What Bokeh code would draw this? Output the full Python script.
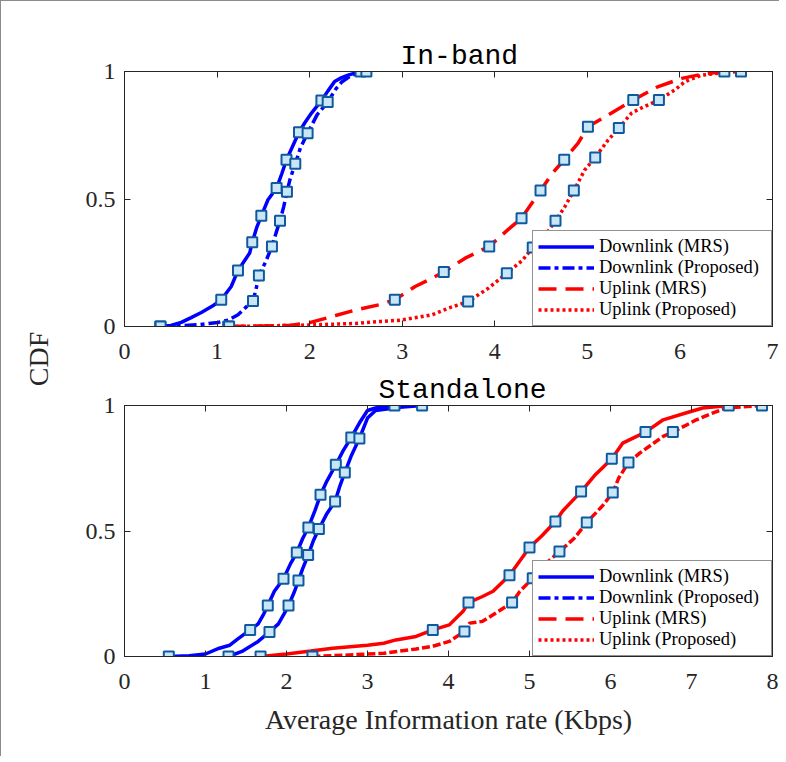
from bokeh.plotting import figure
from bokeh.models import (LinearAxis, FixedTicker, Legend, LegendItem, Range1d, Div,
                          CustomJSTickFormatter)
from bokeh.layouts import row, column
from bokeh.embed import file_html
from bokeh.resources import INLINE

# ---------------- data: In-band ----------------
ib_dl_mrs_x = [0.386, 0.5, 0.613, 0.72, 0.83, 0.95, 1.045, 1.153, 1.226, 1.3, 1.352, 1.38, 1.43, 1.478,
               1.55, 1.643, 1.7, 1.75, 1.82, 1.885, 1.95, 2.02, 2.127, 2.2, 2.27, 2.34, 2.415, 2.55]
ib_dl_mrs_y = [0, 0.004, 0.016, 0.035, 0.055, 0.08, 0.105, 0.157, 0.22, 0.26, 0.288, 0.33, 0.39, 0.434,
               0.497, 0.543, 0.6, 0.654, 0.71, 0.762, 0.8, 0.837, 0.886, 0.925, 0.961, 0.975, 0.986, 1.0]
ib_dl_mrs_mx = [0.386, 1.045, 1.226, 1.38, 1.478, 1.643, 1.75, 1.885, 2.127, 2.55]
ib_dl_mrs_my = [0, 0.105, 0.22, 0.33, 0.434, 0.543, 0.654, 0.762, 0.886, 1.0]

ib_dl_prop_x = [0.39, 0.6, 0.8, 1.01, 1.12, 1.226, 1.31, 1.388, 1.42, 1.452, 1.52, 1.593, 1.64, 1.68,
                1.72, 1.755, 1.79, 1.845, 1.9, 1.978, 2.08, 2.195, 2.28, 2.35, 2.45, 2.613]
ib_dl_prop_y = [0, 0.003, 0.007, 0.016, 0.025, 0.046, 0.075, 0.10, 0.145, 0.2, 0.25, 0.314, 0.37, 0.415,
                0.47, 0.528, 0.58, 0.638, 0.7, 0.758, 0.83, 0.88, 0.93, 0.96, 0.985, 1.0]
ib_dl_prop_mx = [0.39, 1.388, 1.452, 1.593, 1.68, 1.755, 1.845, 1.978, 2.195, 2.613]
ib_dl_prop_my = [0, 0.10, 0.2, 0.314, 0.415, 0.528, 0.638, 0.758, 0.88, 1.0]

ib_ul_mrs_x = [1.12, 1.5, 1.8, 2.0, 2.1, 2.3, 2.5, 2.75, 2.92, 3.14, 3.3, 3.449, 3.68, 3.94, 4.14, 4.289,
               4.494, 4.62, 4.75, 4.9, 5.006, 5.226, 5.496, 5.766, 6.02, 6.25, 6.48]
ib_ul_mrs_y = [0, 0.002, 0.005, 0.015, 0.025, 0.045, 0.065, 0.085, 0.105, 0.157, 0.185, 0.214, 0.268,
               0.314, 0.379, 0.425, 0.533, 0.6, 0.654, 0.719, 0.783, 0.83, 0.888, 0.941, 0.973, 0.99, 1.0]
ib_ul_mrs_mx = [1.12, 2.92, 3.449, 3.94, 4.289, 4.494, 4.75, 5.006, 5.496, 6.48]
ib_ul_mrs_my = [0, 0.105, 0.214, 0.314, 0.425, 0.533, 0.654, 0.783, 0.888, 1.0]

ib_ul_prop_x = [1.13, 1.6, 2.0, 2.5, 2.77, 2.99, 3.316, 3.5, 3.712, 3.93, 4.13, 4.3, 4.41, 4.55, 4.656,
                4.757, 4.854, 4.97, 5.085, 5.226, 5.34, 5.478, 5.6, 5.773, 5.946, 6.054, 6.23, 6.45, 6.66]
ib_ul_prop_y = [0, 0.003, 0.006, 0.012, 0.02, 0.025, 0.045, 0.072, 0.098, 0.15, 0.209, 0.26, 0.31, 0.36,
                0.415, 0.47, 0.533, 0.613, 0.663, 0.732, 0.778, 0.837, 0.86, 0.888, 0.928, 0.96, 0.985,
                0.995, 1.0]
ib_ul_prop_mx = [1.13, 3.712, 4.13, 4.41, 4.656, 4.854, 5.085, 5.34, 5.773, 6.66]
ib_ul_prop_my = [0, 0.098, 0.209, 0.31, 0.415, 0.533, 0.663, 0.778, 0.888, 1.0]

# ---------------- data: Standalone ----------------
sa_dl_mrs_x = [0.547, 0.8, 1.0, 1.17, 1.3, 1.4, 1.551, 1.65, 1.72, 1.769, 1.85, 1.963, 2.05, 2.127, 2.2,
               2.27, 2.35, 2.42, 2.5, 2.609, 2.7, 2.8, 2.9, 3.0, 3.1, 3.333]
sa_dl_mrs_y = [0, 0.003, 0.01, 0.033, 0.045, 0.07, 0.106, 0.13, 0.17, 0.203, 0.26, 0.31, 0.37, 0.414,
               0.47, 0.514, 0.58, 0.644, 0.7, 0.764, 0.82, 0.873, 0.93, 0.98, 0.99, 1.0]
sa_dl_mrs_mx = [0.547, 1.551, 1.769, 1.963, 2.127, 2.27, 2.42, 2.609, 2.8, 3.333]
sa_dl_mrs_my = [0, 0.106, 0.203, 0.31, 0.414, 0.514, 0.644, 0.764, 0.873, 1.0]

sa_dl_prop_x = [1.284, 1.45, 1.65, 1.79, 1.9, 1.97, 2.025, 2.1, 2.148, 2.2, 2.267, 2.33, 2.4, 2.5, 2.6,
                2.66, 2.72, 2.8, 2.9, 3.0, 3.1, 3.4, 3.674]
sa_dl_prop_y = [0, 0.02, 0.06, 0.098, 0.13, 0.17, 0.203, 0.26, 0.303, 0.35, 0.404, 0.46, 0.508, 0.57,
                0.618, 0.68, 0.733, 0.8, 0.869, 0.95, 0.98, 0.993, 1.0]
sa_dl_prop_mx = [1.284, 1.79, 2.025, 2.148, 2.267, 2.4, 2.6, 2.72, 2.9, 3.674]
sa_dl_prop_my = [0, 0.098, 0.203, 0.303, 0.404, 0.508, 0.618, 0.733, 0.869, 1.0]

sa_ul_mrs_x = [1.68, 2.0, 2.3, 2.57, 3.0, 3.2, 3.35, 3.6, 3.806, 4.01, 4.18, 4.247, 4.42, 4.55, 4.753,
               5.0, 5.15, 5.32, 5.41, 5.637, 5.8, 6.016, 6.15, 6.432, 6.65, 6.98, 7.14, 7.46]
sa_ul_mrs_y = [0, 0.01, 0.022, 0.033, 0.045, 0.053, 0.066, 0.08, 0.106, 0.126, 0.18, 0.215, 0.239, 0.26,
               0.324, 0.434, 0.48, 0.538, 0.58, 0.657, 0.72, 0.788, 0.85, 0.894, 0.943, 0.975, 0.99, 1.0]
sa_ul_mrs_mx = [1.68, 3.806, 4.247, 4.753, 5.0, 5.32, 5.637, 6.016, 6.432, 7.46]
sa_ul_mrs_my = [0, 0.106, 0.215, 0.324, 0.434, 0.538, 0.657, 0.788, 0.894, 1.0]

sa_ul_prop_x = [2.32, 2.7, 3.2, 3.6, 3.8, 4.01, 4.197, 4.26, 4.42, 4.55, 4.785, 4.88, 5.04, 5.2, 5.37,
                5.55, 5.707, 5.9, 6.028, 6.1, 6.222, 6.36, 6.65, 6.77, 7.06, 7.26, 7.43, 7.87]
sa_ul_prop_y = [0, 0.005, 0.013, 0.03, 0.04, 0.06, 0.1, 0.133, 0.14, 0.166, 0.215, 0.259, 0.312, 0.37,
                0.418, 0.47, 0.534, 0.6, 0.653, 0.71, 0.773, 0.81, 0.877, 0.894, 0.943, 0.97, 0.99, 1.0]
sa_ul_prop_mx = [2.32, 4.197, 4.785, 5.04, 5.37, 5.707, 6.028, 6.222, 6.77, 7.87]
sa_ul_prop_my = [0, 0.1, 0.215, 0.312, 0.418, 0.534, 0.653, 0.773, 0.894, 1.0]

series_labels = ["Downlink (MRS)", "Downlink (Proposed)", "Uplink (MRS)", "Uplink (Proposed)"]
x_ticks_ib = [0, 1, 2, 3, 4, 5, 6, 7]
x_ticks_sa = [0, 1, 2, 3, 4, 5, 6, 7, 8]
y_ticks = [0, 0.5, 1]

# ---------------- styling ----------------
BLUE = "#0000ff"
RED = "#ff0000"
AX = "#262626"
SERIF = "Liberation Serif"
MONO = "Liberation Mono"
LW = 3.5
legend_styles = [(BLUE, "solid"), (BLUE, "12 4 4 4"), (RED, "18 9"), (RED, "3 3")]

tick_fmt = CustomJSTickFormatter(code="return tick.toString();")
blank_fmt = CustomJSTickFormatter(code="return '';")


def style_axis(ax, ticks, labels=True):
    ax.ticker = FixedTicker(ticks=ticks)
    ax.major_tick_in = 6
    ax.major_tick_out = 0
    ax.minor_tick_line_color = None
    ax.axis_line_color = AX
    ax.major_tick_line_color = AX
    if labels:
        ax.formatter = tick_fmt
        ax.major_label_text_font = SERIF
        ax.major_label_text_font_size = "24px"
        ax.major_label_text_color = AX
        ax.major_label_standoff = 9
    else:
        ax.formatter = blank_fmt
        ax.major_label_standoff = 0
        ax.major_label_text_font_size = "1px"


def make_fig(xmax, xticks, title, title_off, h, top, bottom):
    p = figure(output_backend="svg", toolbar_location=None, width=728, height=h,
               min_border_left=73, min_border_right=7, min_border_top=top, min_border_bottom=bottom,
               x_range=Range1d(0, xmax), y_range=Range1d(0, 1))
    p.grid.visible = False
    p.outline_line_color = AX
    p.background_fill_color = "white"
    p.border_fill_color = "white"
    bottom_axis = p.below[0]
    style_axis(bottom_axis, xticks)
    bottom_axis.major_label_standoff = 17
    style_axis(p.left[0], y_ticks)
    ax_top = LinearAxis()
    style_axis(ax_top, xticks, labels=False)
    p.add_layout(ax_top, "above")
    ax_right = LinearAxis()
    style_axis(ax_right, y_ticks, labels=False)
    p.add_layout(ax_right, "right")
    p.title.text = title
    p.title.text_font = MONO
    p.title.text_font_size = "28px"
    p.title.text_font_style = "normal"
    p.title.text_color = "black"
    p.title.align = "left"
    p.title.offset = title_off
    p.title.standoff = 0
    return p, bottom_axis


def draw(p, curves, line_styles):
    rends = []
    for (cx, cy, mx, my), (col, dash) in zip(curves, line_styles):
        r = p.line(cx, cy, line_color=col, line_width=LW, line_dash=dash)
        rends.append(r)
    for (cx, cy, mx, my) in curves:
        p.scatter(mx, my, marker="square", size=10, fill_color="#c9e6f8",
                  line_color="#0f5a9e", line_width=2)
    return rends


def add_legend(p, rends):
    items = [LegendItem(label=l, renderers=[r]) for l, r in zip(series_labels, rends)]
    leg = Legend(items=items, location="bottom_right", margin=0, padding=5, spacing=0,
                 label_text_font=SERIF, label_text_font_size="18.5px", label_text_color="black",
                 glyph_width=56, glyph_height=21, label_height=21, label_standoff=5,
                 label_width=167,
                 border_line_color=AX, border_line_width=1, background_fill_alpha=1.0)
    p.add_layout(leg)


# ---------------- In-band ----------------
p1, _ = make_fig(7, x_ticks_ib, "In-band", 276, 369, 70, 44)
ib_curves = [(ib_dl_mrs_x, ib_dl_mrs_y, ib_dl_mrs_mx, ib_dl_mrs_my),
             (ib_dl_prop_x, ib_dl_prop_y, ib_dl_prop_mx, ib_dl_prop_my),
             (ib_ul_mrs_x, ib_ul_mrs_y, ib_ul_mrs_mx, ib_ul_mrs_my),
             (ib_ul_prop_x, ib_ul_prop_y, ib_ul_prop_mx, ib_ul_prop_my)]
r1 = draw(p1, ib_curves, legend_styles)
add_legend(p1, r1)

# ---------------- Standalone ----------------
p2, xax2 = make_fig(8, x_ticks_sa, "Standalone", 254, 376, 35, 90)
sa_curves = [(sa_dl_mrs_x, sa_dl_mrs_y, sa_dl_mrs_mx, sa_dl_mrs_my),
             (sa_dl_prop_x, sa_dl_prop_y, sa_dl_prop_mx, sa_dl_prop_my),
             (sa_ul_mrs_x, sa_ul_mrs_y, sa_ul_mrs_mx, sa_ul_mrs_my),
             (sa_ul_prop_x, sa_ul_prop_y, sa_ul_prop_mx, sa_ul_prop_my)]
draw(p2, sa_curves, [(BLUE, "solid"), (BLUE, "solid"), (RED, "solid"), (RED, "8 3")])
# legend keys carry the declared line styles (nothing drawn in the plot area)
nan = float("nan")
leg_rends = [p2.line([nan], [nan], line_color=c, line_width=LW, line_dash=d) for c, d in legend_styles]
add_legend(p2, leg_rends)
xax2.axis_label = "Average Information rate (Kbps)"
xax2.axis_label_text_font = SERIF
xax2.axis_label_text_font_size = "28px"
xax2.axis_label_text_font_style = "normal"
xax2.axis_label_text_color = AX
xax2.axis_label_standoff = 12

total_h = 369 + 376
cdf = Div(text=('<div style="position:absolute; left:33px; top:353px; '
                'transform: translate(-50%, -50%) rotate(-90deg); '
                "font-family: 'Liberation Serif'; font-size: 28px; color: #262626; "
                'white-space: nowrap; line-height: 1;">CDF</div>'),
          width=40, height=total_h, styles={"position": "relative"})

layout = row(cdf, column(p1, p2),
             styles={"border-left": "1px solid #8c8c8c", "border-top": "1px solid #8c8c8c"})
open("out.html", "w").write(file_html(layout, INLINE))
